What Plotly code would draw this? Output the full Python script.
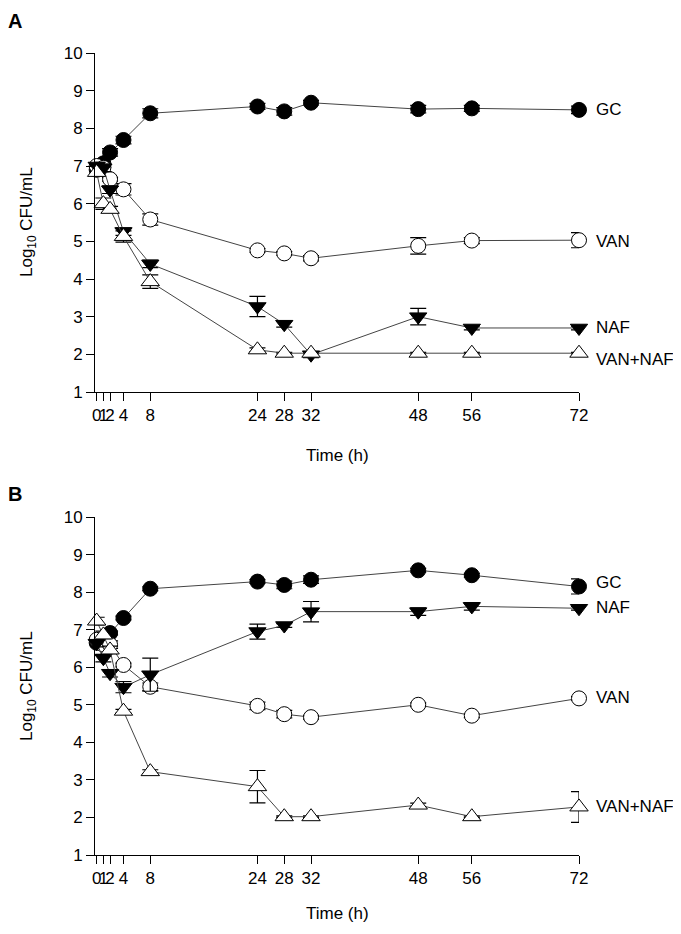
import plotly.graph_objects as go

time_h = [0, 1, 2, 4, 8, 24, 28, 32, 48, 56, 72]
tick_vals = [0, 1, 2, 4, 8, 24, 28, 32, 48, 56, 72]
tick_text = ["0", "1", "2", "4", "8", "24", "28", "32", "48", "56", "72"]

# Panel A
a_gc = [6.9, 7.07, 7.36, 7.69, 8.4, 8.58, 8.45, 8.68, 8.51, 8.53, 8.49]
a_gc_err = [0.1, 0.1, 0.1, 0.1, 0.12, 0.08, 0.1, 0.06, 0.1, 0.08, 0.1]
a_van = [7.0, 6.95, 6.65, 6.38, 5.58, 4.76, 4.68, 4.55, 4.88, 5.02, 5.03]
a_van_err = [0.1, 0.1, 0.05, 0.15, 0.15, 0.05, 0.05, 0.07, 0.22, 0.08, 0.2]
a_naf = [7.0, 6.95, 6.37, 5.26, 4.4, 3.27, 2.8, 1.99, 3.0, 2.7, 2.7]
a_naf_err = [0.1, 0.1, 0.1, 0.1, 0.1, 0.27, 0.08, 0.08, 0.22, 0.05, 0.05]
a_vn = [6.83, 6.0, 5.85, 5.13, 3.93, 2.12, 2.03, 2.03, 2.03, 2.03, 2.03]
a_vn_err = [0.1, 0.15, 0.08, 0.15, 0.18, 0.05, 0.02, 0.02, 0.02, 0.02, 0.02]

# Panel B
b_gc = [6.65, 6.7, 6.91, 7.31, 8.09, 8.28, 8.19, 8.33, 8.58, 8.45, 8.15]
b_gc_err = [0.1, 0.1, 0.05, 0.05, 0.05, 0.05, 0.1, 0.1, 0.05, 0.05, 0.2]
b_van = [6.73, 6.6, 6.6, 6.06, 5.48, 4.97, 4.75, 4.67, 5.0, 4.71, 5.17]
b_van_err = [0.1, 0.1, 0.1, 0.05, 0.1, 0.1, 0.1, 0.05, 0.05, 0.05, 0.05]
b_naf = [6.64, 6.24, 5.84, 5.47, 5.8, 6.95, 7.11, 7.48, 7.48, 7.62, 7.57]
b_naf_err = [0.1, 0.1, 0.1, 0.15, 0.44, 0.2, 0.05, 0.27, 0.1, 0.1, 0.05]
b_vn = [7.23, 6.86, 6.46, 4.83, 3.22, 2.82, 2.02, 2.02, 2.33, 2.02, 2.28]
b_vn_err = [0.1, 0.1, 0.1, 0.05, 0.05, 0.43, 0.02, 0.02, 0.05, 0.02, 0.41]

series_names = ["GC", "VAN", "NAF", "VAN+NAF"]
label_y_a = [8.5, 5.0, 2.7, 1.85]
label_y_b = [8.25, 5.2, 7.6, 2.3]

styles = {
    "GC": dict(symbol="circle", color="black", size=15),
    "VAN": dict(symbol="circle", color="white", size=15),
    "NAF": dict(symbol="triangle-down", color="black", size=15),
    "VAN+NAF": dict(symbol="triangle-up", color="white", size=16),
}

FONT = "Liberation Sans, Arial, sans-serif"
FS = 17
W, H = 681, 934
OFF = 8  # page body margin in the browser


def px(xp):
    return (xp - OFF) / W


def py(yp):
    return 1 - (yp - OFF) / H


fig = go.Figure()

panels = [
    ("x", "y", [a_gc, a_van, a_naf, a_vn], [a_gc_err, a_van_err, a_naf_err, a_vn_err], label_y_a),
    ("x2", "y2", [b_gc, b_van, b_naf, b_vn], [b_gc_err, b_van_err, b_naf_err, b_vn_err], label_y_b),
]

for xa, ya, vals, errs, laby in panels:
    for name, v, e in zip(series_names, vals, errs):
        st = styles[name]
        fig.add_trace(go.Scatter(
            x=time_h, y=v, mode="lines+markers", name=name, showlegend=False,
            xaxis=xa, yaxis=ya,
            line=dict(color="#444444", width=1),
            marker=dict(symbol=st["symbol"], color=st["color"], size=st["size"],
                        line=dict(color="black", width=1)),
            error_y=dict(type="data", array=e, visible=True, color="black",
                         thickness=1.2, width=8),
            cliponaxis=False,
        ))
    for name, ly in zip(series_names, laby):
        fig.add_annotation(x=72, y=ly, xref=xa, yref=ya, text=name, showarrow=False,
                           xanchor="left", yanchor="middle", xshift=15,
                           font=dict(family=FONT, size=FS, color="black"))

xdom = [px(95), px(579)]
ydomA = [py(392), py(53)]
ydomB = [py(855), py(517)]

axis_common = dict(showgrid=False, zeroline=False, showline=True, linecolor="black", linewidth=1,
                   ticks="outside", ticklen=8, tickcolor="black", tickwidth=1, automargin=False,
                   tickfont=dict(family=FONT, size=FS, color="black"))

fig.update_layout(
    width=W, height=H, margin=dict(l=0, r=0, t=0, b=0),
    paper_bgcolor="white", plot_bgcolor="white",
    xaxis=dict(domain=xdom, range=[-0.25, 72], tickmode="array", tickvals=tick_vals, ticktext=tick_text,
               tickangle=0, anchor="y", **axis_common),
    yaxis=dict(domain=ydomA, range=[1, 10], tickmode="array", tickvals=list(range(1, 11)),
               anchor="x", **axis_common),
    xaxis2=dict(domain=xdom, range=[-0.25, 72], tickmode="array", tickvals=tick_vals, ticktext=tick_text,
                tickangle=0, anchor="y2", **axis_common),
    yaxis2=dict(domain=ydomB, range=[1, 10], tickmode="array", tickvals=list(range(1, 11)),
                anchor="x2", **axis_common),
)

for ycen, xt_y, letter_y, letter in [(222, 455, 21, "A"), (686, 913, 494, "B")]:
    fig.add_annotation(x=px(28), y=py(ycen), xref="paper", yref="paper",
                       xanchor="center", yanchor="middle",
                       text="Log<sub>10</sub> CFU/mL", textangle=-90, showarrow=False,
                       font=dict(family=FONT, size=FS, color="black"))
    fig.add_annotation(x=px(337), y=py(xt_y), xref="paper", yref="paper",
                       xanchor="center", yanchor="middle",
                       text="Time (h)", showarrow=False,
                       font=dict(family=FONT, size=FS, color="black"))
    fig.add_annotation(x=px(15), y=py(letter_y), xref="paper", yref="paper",
                       xanchor="center", yanchor="middle",
                       text="<b>" + letter + "</b>", showarrow=False,
                       font=dict(family=FONT, size=20, color="black"))

fig.write_html("out.html")
